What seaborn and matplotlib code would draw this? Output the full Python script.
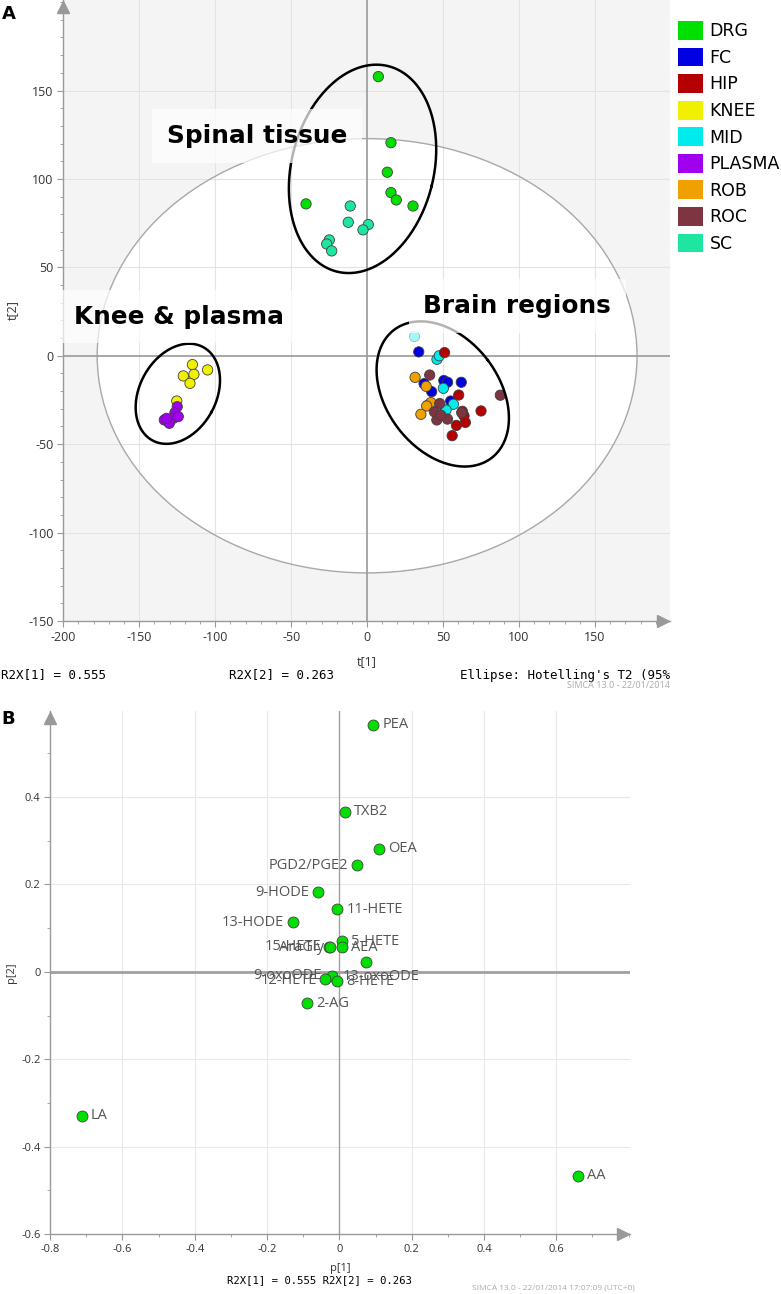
import numpy as np
import pandas as pd
import matplotlib
matplotlib.use("Agg")
import matplotlib.pyplot as plt
import seaborn as sns
from matplotlib.patches import Ellipse, Patch
from matplotlib import transforms
from matplotlib.ticker import MultipleLocator, FixedLocator

# ---- Panel A: PCA scores, one row per sample ----
tissues = ["DRG", "FC", "HIP", "KNEE", "MID", "PLASMA", "ROB", "ROC", "SC"]
tissue_colors = ["#00e000", "#0000e0", "#b40000", "#f0f000", "#00ecec",
                 "#a000f0", "#f0a000", "#7f3441", "#1ee6a0"]

t1 = [7.4, 15.7, 13.3, 15.7, 19.2, 30.2, -40.2,
      -11.1, -12.4, 0.8, -2.7, -24.9, -26.6, -23.3,
      -115, -105, -114, -121, -116.6, -125.3,
      -125, -126.5, -127.6, -133.5, -130.2, -124.3, -132,
      34, 50.5, 53, 62, 42.5, 37.5, 55, 51.3,
      46, 47.5, 50.2, 56.8, 52,
      51, 60.3, 75, 62.7, 63.8, 64.7, 58.8, 56,
      31.6, 38.9, 40, 42, 39.2, 35.4,
      41.2, 87.7, 47.8, 45.9, 52.9, 62.3, 44.3, 48.5]
t2 = [157.9, 120.5, 103.8, 92.3, 88.1, 84.7, 85.9,
      84.7, 75.5, 74.2, 71.2, 65.5, 63.2, 59.3,
      -5, -8, -10.5, -11.4, -15.6, -25.6,
      -28.8, -32.2, -35.4, -36.3, -38.2, -34.4, -35.4,
      2.2, -14, -15, -15, -20.3, -15.8, -25.6, -30.7,
      -2, 0, -18.4, -27.4, -30.7,
      1.8, -22.2, -31.2, -31.4, -34, -37.7, -39.4, -45.2,
      -12.2, -17.3, -28, -26.5, -28.4, -33.1,
      -10.9, -22.3, -27, -36.3, -35.8, -32.2, -31.7, -33.6]
tissue = (["DRG"] * 7 + ["SC"] * 7 + ["KNEE"] * 6 + ["PLASMA"] * 7 + ["FC"] * 8
          + ["MID"] * 5 + ["HIP"] * 8 + ["ROB"] * 6 + ["ROC"] * 8)
faded_t1 = [30.9]
faded_t2 = [11.3]
a_xticks = [-200, -150, -100, -50, 0, 50, 100, 150]
a_yticks = [-150, -100, -50, 0, 50, 100, 150]

# ---- Panel B: loadings ----
lipids = ["PEA", "TXB2", "OEA", "PGD2/PGE2", "9-HODE", "11-HETE", "13-HODE",
          "15-HETE", "AraGly", "5-HETE", "AEA", "13-oxoODE", "9-oxoODE",
          "12-HETE", "8-HETE", "2-AG", "LA", "AA"]
p1 = [0.094, 0.015, 0.109, 0.048, -0.058, -0.006, -0.128, -0.028, -0.027,
      0.006, 0.006, 0.073, -0.021, -0.041, -0.007, -0.090, -0.712, 0.659]
p2 = [0.565, 0.366, 0.282, 0.244, 0.182, 0.143, 0.113, 0.058, 0.057,
      0.070, 0.056, 0.022, -0.009, -0.017, -0.021, -0.072, -0.329, -0.467]
b_xticks = [-0.8, -0.6, -0.4, -0.2, 0, 0.2, 0.4, 0.6]
b_yticks = [-0.6, -0.4, -0.2, 0, 0.2, 0.4]

W, H = 781, 1294
SANS = ["Open Sans", "DejaVu Sans"]
MONO = ["DejaVu Sans Mono"]
plt.rcParams["font.family"] = SANS
plt.rcParams["axes.unicode_minus"] = False

fig = plt.figure(figsize=(W / 100, H / 100), dpi=100)


def fx(px):
    return px / W


def fy(py):
    return 1 - py / H


def style_axes(ax, xticks, yticks, minor, labelsize):
    for s in ["top", "right"]:
        ax.spines[s].set_visible(False)
    for s in ["left", "bottom"]:
        ax.spines[s].set_color("#999999")
        ax.spines[s].set_linewidth(1.0)
    ax.xaxis.set_major_locator(FixedLocator(xticks))
    ax.yaxis.set_major_locator(FixedLocator(yticks))
    ax.xaxis.set_minor_locator(MultipleLocator(minor))
    ax.yaxis.set_minor_locator(MultipleLocator(minor))
    ax.set_xticklabels([f"{v:g}" for v in xticks])
    ax.set_yticklabels([f"{v:g}" for v in yticks])
    ax.tick_params(which="major", length=4, color="#999999", labelsize=labelsize,
                   labelcolor="#333333", pad=3)
    ax.tick_params(which="minor", length=2.5, color="#999999")
    # arrow heads at the spine ends
    up = transforms.offset_copy(ax.transAxes, fig=fig, y=-7, units="dots")
    right = transforms.offset_copy(ax.transAxes, fig=fig, x=-7, units="dots")
    ax.plot(0, 1, "^", color="#999999", ms=9, transform=up, clip_on=False, zorder=6)
    ax.plot(1, 0, ">", color="#999999", ms=9, transform=right, clip_on=False, zorder=6)


def cluster_ellipse(ax, cx, cy, a_px, b_px, ang):
    t = np.linspace(0, 2 * np.pi, 300)
    o = ax.transData.transform((0, 0))
    sx, sy = ax.transData.transform((1, 1)) - o
    th = np.deg2rad(ang)
    X = a_px * np.cos(t) * np.cos(th) - b_px * np.sin(t) * np.sin(th)
    Y = a_px * np.cos(t) * np.sin(th) + b_px * np.sin(t) * np.cos(th)
    ax.plot(cx + X / sx, cy + Y / sy, color="black", lw=1.8, zorder=4)


# ================= Panel A =================
axA = fig.add_axes([fx(63.3), fy(621), (670 - 63.3) / W, 621 / H])
axA.set_xlim(-200, 199.4)
axA.set_ylim(-150, 201.2)
axA.set_facecolor("#f4f4f4")
axA.add_patch(Ellipse((0, 0), 355.4, 245.6, facecolor="white", edgecolor="none", zorder=0.5))
for v in [-150, -100, -50, 50, 100, 150]:
    axA.axvline(v, color="#e3e3e3", lw=0.8, zorder=0.8)
for v in [-100, -50, 50, 100, 150]:
    axA.axhline(v, color="#e3e3e3", lw=0.8, zorder=0.8)
axA.add_patch(Ellipse((0, 0), 355.4, 245.6, facecolor="none", edgecolor="#a8a8a8", lw=1.0, zorder=1))
axA.axhline(0, color="#a0a0a0", lw=1.3, zorder=1.2)
axA.axvline(0, color="#a0a0a0", lw=1.3, zorder=1.2)

scores = pd.DataFrame({"t1": t1, "t2": t2, "tissue": tissue})
sns.scatterplot(data=scores, x="t1", y="t2", hue="tissue", hue_order=tissues,
                palette=dict(zip(tissues, tissue_colors)), s=55,
                edgecolor="#404040", linewidth=0.6, legend=False, ax=axA, zorder=3)
sns.scatterplot(x=faded_t1, y=faded_t2, color="#00ecec", alpha=0.35, s=55,
                edgecolor="#404040", linewidth=0.6, ax=axA, zorder=3)

style_axes(axA, a_xticks, a_yticks, 10, 9)
axA.set_xlabel("t[1]", fontsize=9, color="#333333")
axA.set_ylabel("t[2]", fontsize=9, color="#333333")
axA.xaxis.set_label_coords(0.5, -0.055)
axA.yaxis.set_label_coords(-0.073, 0.5)

cluster_ellipse(axA, -3.0, 105.7, 71.2, 105.9, -14)
cluster_ellipse(axA, -124.6, -21.5, 38.3, 53.1, -28.7)
cluster_ellipse(axA, 49.8, -21.6, 56.3, 80.5, 37.2)

box = dict(boxstyle="square,pad=0.6", fc="white", ec="none", alpha=0.7)
for x, y, s in [(-131.8, 120.4, "Spinal tissue"), (-193.2, 18.2, "Knee & plasma"),
                (37.1, 24.0, "Brain regions")]:
    axA.text(x, y, s, fontsize=17.8, fontweight="bold", family="DejaVu Sans",
             ha="left", va="baseline", bbox=box, zorder=5)

handles = [Patch(facecolor=c, edgecolor="none") for c in tissue_colors]
fig.legend(handles, tissues, loc="upper left", bbox_to_anchor=(fx(678.4), fy(21)),
           frameon=False, borderpad=0, borderaxespad=0, handlelength=1.4,
           handleheight=1.3, handletextpad=0.4, labelspacing=0.42,
           prop={"family": "DejaVu Sans", "size": 12.5})

fig.text(fx(1), fy(675), "R2X[1] = 0.555", family=MONO, fontsize=9, va="center")
fig.text(fx(229), fy(675), "R2X[2] = 0.263", family=MONO, fontsize=9, va="center")
fig.text(fx(670), fy(675), "Ellipse: Hotelling's T2 (95%", family=MONO, fontsize=9,
         va="center", ha="right")
fig.text(fx(670), fy(686), "SIMCA 13.0 - 22/01/2014", fontsize=6.5, color="#aaaaaa",
         va="center", ha="right")
fig.text(fx(2), fy(14), "A", fontsize=13, fontweight="bold", family="DejaVu Sans", va="center")

# ================= Panel B =================
axB = fig.add_axes([fx(50.2), fy(1234), (630 - 50.2) / W, (1234 - 711) / H])
axB.set_xlim(-0.8, 0.804)
axB.set_ylim(-0.6, 0.597)
for v in [-0.6, -0.4, -0.2, 0.2, 0.4, 0.6]:
    axB.axvline(v, color="#e8e8e8", lw=0.8, zorder=0.8)
for v in [-0.4, -0.2, 0.2, 0.4]:
    axB.axhline(v, color="#e8e8e8", lw=0.8, zorder=0.8)
axB.axhline(0, color="#a0a0a0", lw=2.0, zorder=1.2)
axB.axvline(0, color="#a0a0a0", lw=1.0, zorder=1.2)

loadings = pd.DataFrame({"p1": p1, "p2": p2, "lipid": lipids})
sns.scatterplot(data=loadings, x="p1", y="p2", color="#00e000", s=62,
                edgecolor="#404040", linewidth=0.6, ax=axB, zorder=3)

# label placement (pixels from the point)
label_offsets = {"PGD2/PGE2": (-9, 0), "9-HODE": (-9, 0), "13-HODE": (-9, 0),
                 "15-HETE": (-8, 0), "AraGly": (-5, -1), "9-oxoODE": (-10, 0),
                 "12-HETE": (-7, -1), "13-oxoODE": (-23, -14)}
for name, x, y in zip(lipids, p1, p2):
    dx, dy = label_offsets.get(name, (9, 0))
    axB.annotate(name, (x, y), xytext=(dx, dy), textcoords="offset pixels",
                 ha="right" if dx < 0 and name != "13-oxoODE" else "left",
                 va="center", fontsize=10.5, color="#555555", zorder=4)

style_axes(axB, b_xticks, b_yticks, 0.1, 8)
axB.set_xlabel("p[1]", fontsize=8, color="#333333")
axB.set_ylabel("p[2]", fontsize=8, color="#333333")
axB.xaxis.set_label_coords(0.5, -0.055)
axB.yaxis.set_label_coords(-0.057, 0.5)

fig.text(fx(319.5), fy(1279.6), "R2X[1] = 0.555 R2X[2] = 0.263", family=MONO,
         fontsize=7.7, va="center", ha="center")
fig.text(fx(635), fy(1288), "SIMCA 13.0 - 22/01/2014 17:07:09 (UTC+0)", fontsize=6,
         color="#aaaaaa", va="center", ha="right")
fig.text(fx(1), fy(719), "B", fontsize=13, fontweight="bold", family="DejaVu Sans", va="center")

fig.savefig("out.png", dpi=100)
